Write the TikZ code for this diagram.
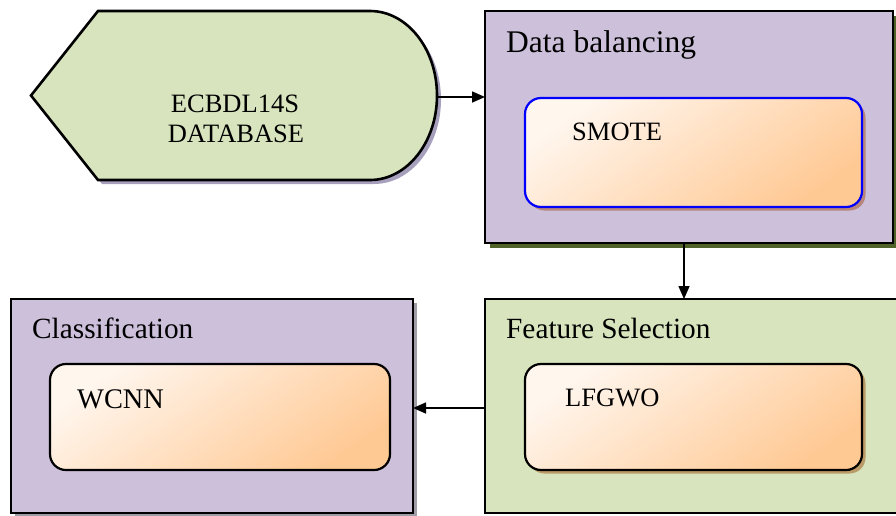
\documentclass[tikz,border=0pt]{standalone}
\usepackage{fontspec}
\setmainfont{Liberation Serif}
\usetikzlibrary{arrows.meta,calc,shadows}
\definecolor{dbgreen}{HTML}{D7E4BD}
\definecolor{lav}{HTML}{CCC0DA}
\definecolor{dbshadow}{HTML}{A7A0BD}
\definecolor{olive}{HTML}{4F6228}
\definecolor{clsshadow}{HTML}{A09CA8}
\definecolor{smshadow}{HTML}{B7857A}
\definecolor{lfshadow}{HTML}{BA9A66}
\definecolor{peachA}{HTML}{FFF6EE}
\definecolor{peachB}{HTML}{FFC994}
\definecolor{smblue}{HTML}{0000FF}
\tikzset{
  outerbox/.style={draw=black, line width=2.6pt, rectangle, inner sep=0pt, outer sep=0pt, anchor=north west},
  innerbox/.style={draw=black, line width=2.2pt, rectangle, rounded corners=16pt, inner sep=0pt, outer sep=0pt, anchor=north west,
     top color=peachA, bottom color=peachB, shading angle=35},
  shad/.style={drop shadow={shadow xshift=#1, shadow yshift=-#1, opacity=1}},
  lbl/.style={anchor=base west, inner sep=0pt},
  arr/.style={line width=1.6pt, -{Triangle[length=13pt,width=11pt]}}
}
\begin{document}
\begin{tikzpicture}[x=1pt,y=-1pt]
\useasboundingbox (0,0) rectangle (896,515);
\clip (0,0) rectangle (896,515);
% database
\filldraw[fill=dbgreen, draw=black, line width=2.6pt, line join=miter,
  drop shadow={shadow xshift=4pt, shadow yshift=-4pt, opacity=1, fill=dbshadow}]
  (31,95.5) -- (98,11) -- (370,11)
  .. controls (407,11) and (437,48.8) .. (437,95.5)
  .. controls (437,142.2) and (407,180) .. (370,180)
  -- (98,180) -- cycle;
\coordinate (dbE) at (437,97);
\node[anchor=base, inner sep=0pt, font=\fontsize{26.5}{30}\selectfont] (dbt1) at (235,112) {ECBDL14S};
\node[anchor=base, inner sep=0pt, font=\fontsize{26.5}{30}\selectfont] (dbt2) at (236,142) {DATABASE};
% data balancing
\node[outerbox, fill=lav, minimum width=408pt, minimum height=232pt,
  drop shadow={shadow xshift=4.5pt, shadow yshift=-4.5pt, opacity=1, fill=olive}] (bal) at (485,11) {};
\node[lbl, font=\fontsize{31.5}{34}\selectfont] (balt) at (506,52) {Data balancing};
\node[innerbox, draw=smblue, minimum width=337pt, minimum height=109pt,
  drop shadow={shadow xshift=3.5pt, shadow yshift=-3.5pt, opacity=1, fill=smshadow}] (smote) at (525,98) {};
\node[lbl, font=\fontsize{26.5}{30}\selectfont] (smt) at (572,140) {SMOTE};
% feature selection
\node[outerbox, fill=dbgreen, minimum width=430pt, minimum height=214pt] (fs) at (485,299) {};
\node[lbl, font=\fontsize{29.3}{32}\selectfont] (fst) at (506,338) {Feature Selection};
\node[innerbox, minimum width=337pt, minimum height=106pt,
  drop shadow={shadow xshift=3.5pt, shadow yshift=-3.5pt, opacity=1, fill=lfshadow}] (lf) at (525,364) {};
\node[lbl, font=\fontsize{26.5}{30}\selectfont] (lft) at (565,406) {LFGWO};
% classification
\node[outerbox, fill=lav, minimum width=402pt, minimum height=214pt,
  drop shadow={shadow xshift=3.5pt, shadow yshift=-3.5pt, opacity=1, fill=clsshadow}] (cls) at (11,299) {};
\node[lbl, font=\fontsize{29.3}{32}\selectfont] (clst) at (32,338) {Classification};
\node[innerbox, minimum width=340pt, minimum height=106pt] (wc) at (50,364) {};
\node[lbl, font=\fontsize{28.4}{31}\selectfont] (wct) at (77,408) {WCNN};
% connectors
\draw[arr] (dbE) -- (dbE -| bal.west);
\coordinate (balS) at (684,243);
\draw[arr] (balS) -- (balS |- fs.north);
\coordinate (fsW) at (485,408);
\draw[arr] (fsW) -- (fsW -| cls.east);
\end{tikzpicture}
\end{document}
